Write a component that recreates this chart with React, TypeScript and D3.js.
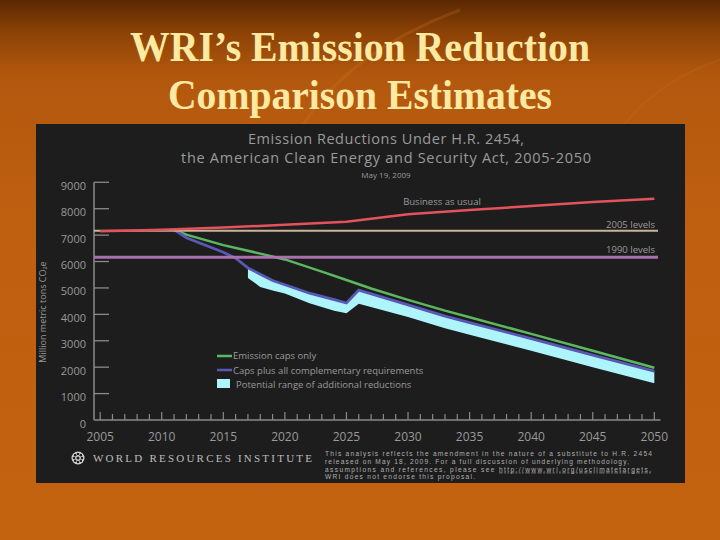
import { useEffect, useRef } from "react";
import * as d3 from "d3";

// values (million metric tons CO2e)
const bauYears = [2005, 2010, 2015, 2020, 2025, 2030, 2035, 2040, 2045, 2050];
const bauValues = [7150, 7200, 7290, 7390, 7510, 7790, 7950, 8100, 8250, 8380];

const level2005 = 7170;
const level1990 = 6160;

const capsYears = [2011, 2012, 2015, 2018, 2020, 2023, 2025, 2027, 2030, 2033, 2035, 2040, 2045, 2050];
const capsValues = [7210, 7020, 6620, 6300, 6080, 5620, 5300, 4980, 4550, 4140, 3890, 3260, 2620, 1980];

const compYears = [2011, 2012, 2015, 2016, 2017, 2018, 2019, 2020, 2022, 2024, 2025, 2026, 2030, 2033, 2035, 2040, 2045, 2050];
const compValues = [7210, 6900, 6350, 6130, 5760, 5520, 5280, 5120, 4800, 4560, 4430, 4920, 4360, 3930, 3690, 3080, 2460, 1850];

const bandYears = [2017, 2018, 2019, 2020, 2022, 2024, 2025, 2026, 2030, 2033, 2035, 2040, 2045, 2050];
const bandHigh = [5760, 5520, 5280, 5120, 4800, 4560, 4430, 4920, 4360, 3930, 3690, 3080, 2460, 1850];
const bandLow = [5380, 5040, 4900, 4790, 4420, 4140, 4040, 4400, 3900, 3470, 3230, 2620, 2000, 1390];

const yTicks = [0, 1000, 2000, 3000, 4000, 5000, 6000, 7000, 8000, 9000];
const xLabelYears = [2005, 2010, 2015, 2020, 2025, 2030, 2035, 2040, 2045, 2050];

const slideTitle = ["WRI\u2019s Emission Reduction", "Comparison Estimates"];
const slideTitleWidths = [460, 384];
const chartTitle = ["Emission Reductions Under H.R. 2454,", "the American Clean Energy and Security Act, 2005-2050"];
const chartTitleWidths = [276, 410];
const chartDate = "May 19, 2009";
const legendItems = ["Emission caps only", "Caps plus all complementary requirements", "Potential range of additional reductions"];
const noteLines = [
  "This analysis reflects the amendment in the nature of a substitute to H.R. 2454",
  "released on May 18, 2009. For a full discussion of underlying methodology,",
  "assumptions and references, please see ",
  "WRI does not endorse this proposal.",
];
const noteWidths = [327, 304, 326, 150];
const noteUrl = "http://www.wri.org/usclimatetargets.";

const W = 720;
const H = 540;
const SANS = "'Open Sans', 'DejaVu Sans', sans-serif";
const GRAY = "#9a9a9a";

export default function App() {
  const svgRef = useRef<SVGSVGElement | null>(null);

  useEffect(() => {
    const svg = d3.select(svgRef.current);
    svg.selectAll("*").remove();

    // slide background
    const defs = svg.append("defs");
    const grad = defs.append("linearGradient").attr("id", "bg").attr("x1", 0).attr("y1", 0).attr("x2", 0).attr("y2", 1);
    grad.append("stop").attr("offset", "0%").attr("stop-color", "#5a2802");
    grad.append("stop").attr("offset", "6%").attr("stop-color", "#8c4206");
    grad.append("stop").attr("offset", "14%").attr("stop-color", "#b2580e");
    grad.append("stop").attr("offset", "40%").attr("stop-color", "#bf5f10");
    grad.append("stop").attr("offset", "100%").attr("stop-color", "#c3620f");
    svg.append("rect").attr("width", W).attr("height", H).attr("fill", "url(#bg)");

    // faint leaf streaks
    svg.append("path")
      .attr("d", "M300,130 C330,80 380,40 460,10")
      .attr("fill", "none").attr("stroke", "#cf7426").attr("stroke-opacity", 0.25).attr("stroke-width", 3);
    svg.append("path")
      .attr("d", "M620,130 C650,90 690,70 720,60")
      .attr("fill", "none").attr("stroke", "#cf7426").attr("stroke-opacity", 0.2).attr("stroke-width", 2);

    svg.selectAll("text.slide-title")
      .data(slideTitle)
      .enter()
      .append("text")
      .attr("x", 360)
      .attr("y", (d, i) => 61 + i * 48)
      .attr("text-anchor", "middle")
      .attr("font-family", "'Liberation Serif', 'Times New Roman', serif")
      .attr("font-weight", "bold")
      .attr("font-size", 42)
      .attr("textLength", (d, i) => slideTitleWidths[i])
      .attr("lengthAdjust", "spacingAndGlyphs")
      .attr("fill", "#fde9a2")
      .text(d => d);

    // embedded chart panel
    svg.append("rect").attr("x", 36).attr("y", 124).attr("width", 649).attr("height", 359).attr("fill", "#1d1d1d");

    svg.selectAll("text.chart-title")
      .data(chartTitle)
      .enter()
      .append("text")
      .attr("x", 386)
      .attr("y", (d, i) => 144 + i * 19)
      .attr("text-anchor", "middle")
      .attr("font-family", SANS)
      .attr("font-size", 14.5)
      .attr("textLength", (d, i) => chartTitleWidths[i])
      .attr("lengthAdjust", "spacing")
      .attr("fill", GRAY)
      .text(d => d);
    svg.append("text")
      .attr("x", 386).attr("y", 178)
      .attr("text-anchor", "middle")
      .attr("font-family", SANS).attr("font-size", 8).attr("fill", GRAY)
      .text(chartDate);

    const x = d3.scaleLinear().domain([2004.5, 2050.3]).range([94, 658]);
    const y = d3.scaleLinear().domain([0, 9000]).range([420, 182.3]);

    // axes
    const axisColor = "#8a8a8a";
    svg.append("line").attr("x1", 94).attr("x2", 94).attr("y1", y(9000)).attr("y2", y(0)).attr("stroke", axisColor).attr("stroke-width", 1.5);
    svg.append("line").attr("x1", 94).attr("x2", x(2050.5)).attr("y1", y(0)).attr("y2", y(0)).attr("stroke", axisColor).attr("stroke-width", 1.5);

    svg.selectAll("line.ytick")
      .data(yTicks.filter(v => v > 0))
      .enter()
      .append("line")
      .attr("x1", 94).attr("x2", 109)
      .attr("y1", d => y(d)).attr("y2", d => y(d))
      .attr("stroke", axisColor).attr("stroke-width", 1.3);

    svg.selectAll("text.ylab")
      .data(yTicks)
      .enter()
      .append("text")
      .attr("x", 86)
      .attr("y", d => y(d) + 7.5)
      .attr("text-anchor", "end")
      .attr("font-family", SANS).attr("font-size", 11).attr("fill", GRAY)
      .text(d => String(d));

    svg.selectAll("line.xtick")
      .data(d3.range(2005, 2051))
      .enter()
      .append("line")
      .attr("x1", d => x(d)).attr("x2", d => x(d))
      .attr("y1", y(0)).attr("y2", d => y(0) - (d % 5 === 0 ? 8 : 6))
      .attr("stroke", axisColor).attr("stroke-width", 1.2);

    svg.selectAll("text.xlab")
      .data(xLabelYears)
      .enter()
      .append("text")
      .attr("x", d => x(d))
      .attr("y", 441)
      .attr("text-anchor", "middle")
      .attr("font-family", SANS).attr("font-size", 12).attr("fill", GRAY)
      .text(d => String(d));

    svg.append("text")
      .attr("transform", "translate(46,312) rotate(-90)")
      .attr("text-anchor", "middle")
      .attr("font-family", SANS).attr("font-size", 9).attr("fill", GRAY)
      .text("Million metric tons CO\u2082e");

    // potential range band
    const bandData = bandYears.map((yr, i) => ({ yr, hi: bandHigh[i], lo: bandLow[i] }));
    svg.append("path")
      .attr("fill", "#aef4fb")
      .attr("d", d3.area<{ yr: number; hi: number; lo: number }>()
        .x(d => x(d.yr)).y0(d => y(d.lo)).y1(d => y(d.hi))(bandData) || "");

    const line = d3.line<[number, number]>().x(d => x(d[0])).y(d => y(d[1]));

    svg.append("path")
      .attr("d", line(capsYears.map((yr, i) => [yr, capsValues[i]] as [number, number])) || "")
      .attr("fill", "none").attr("stroke", "#5cb860").attr("stroke-width", 2.5);

    svg.append("path")
      .attr("d", line(compYears.map((yr, i) => [yr, compValues[i]] as [number, number])) || "")
      .attr("fill", "none").attr("stroke", "#5858b6").attr("stroke-width", 2.8);

    // reference levels
    const [x0, x1] = x.domain();
    svg.append("path")
      .attr("d", line([[x0, level2005], [x1, level2005]]) || "")
      .attr("stroke", "#c8b598").attr("stroke-width", 2);
    svg.append("path")
      .attr("d", line([[x0, level1990], [x1, level1990]]) || "")
      .attr("stroke", "#b274b4").attr("stroke-width", 3).attr("stroke-opacity", 0.95);

    svg.append("path")
      .attr("d", line(bauYears.map((yr, i) => [yr, bauValues[i]] as [number, number])) || "")
      .attr("fill", "none").attr("stroke", "#e4525c").attr("stroke-width", 2.5);

    const annot = (tx: number, ty: number, anchor: string, s: string) =>
      svg.append("text")
        .attr("x", tx).attr("y", ty)
        .attr("text-anchor", anchor)
        .attr("font-family", SANS).attr("font-size", 9.5).attr("fill", GRAY)
        .text(s);
    annot(442, 205, "middle", "Business as usual");
    annot(655, 228, "end", "2005 levels");
    annot(655, 253, "end", "1990 levels");

    // legend
    const legendColors = ["#5cb860", "#5858b6"];
    legendColors.forEach((c, i) => {
      svg.append("line")
        .attr("x1", 217).attr("x2", 232)
        .attr("y1", 356 + i * 14).attr("y2", 356 + i * 14)
        .attr("stroke", c).attr("stroke-width", 2.5);
    });
    svg.append("rect").attr("x", 217).attr("y", 379).attr("width", 13).attr("height", 9).attr("fill", "#aef4fb");
    legendItems.forEach((s, i) => {
      svg.append("text")
        .attr("x", i === 2 ? 236 : 233)
        .attr("y", 359 + i * 14.5)
        .attr("font-family", SANS).attr("font-size", 9.5).attr("fill", GRAY)
        .text(s);
    });

    // footer: logo + institute name
    const logo = svg.append("g").attr("transform", "translate(78,458)");
    logo.append("circle").attr("r", 6.5).attr("fill", "#d8d8d8");
    d3.range(8).forEach(k => {
      const a = (k / 8) * Math.PI * 2;
      logo.append("circle").attr("cx", Math.cos(a) * 4).attr("cy", Math.sin(a) * 4).attr("r", 1.3).attr("fill", "#1d1d1d");
    });
    logo.append("circle").attr("r", 1.6).attr("fill", "#1d1d1d");

    svg.append("text")
      .attr("x", 93).attr("y", 462)
      .attr("font-family", "'Liberation Serif', serif").attr("font-size", 11).attr("fill", "#bdbdbd")
      .attr("textLength", 219).attr("lengthAdjust", "spacing")
      .text("WORLD RESOURCES INSTITUTE");

    noteLines.forEach((s, i) => {
      const t = svg.append("text")
        .attr("x", 325).attr("y", 456 + i * 7.8)
        .attr("font-family", "'Liberation Sans', Arial, sans-serif").attr("font-size", 6.6).attr("fill", "#b0b0b0")
        .attr("textLength", noteWidths[i]).attr("lengthAdjust", "spacing");
      t.append("tspan").text(s);
      if (i === 2) {
        t.append("tspan").attr("text-decoration", "underline").text(noteUrl);
      }
    });
  }, []);

  return (
    <svg
      ref={svgRef}
      width={W}
      height={H}
      viewBox={`0 0 ${W} ${H}`}
      style={{ position: "absolute", left: 0, top: 0, display: "block" }}
    />
  );
}
